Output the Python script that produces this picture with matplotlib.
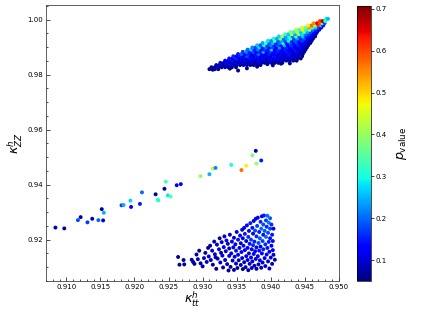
import matplotlib
matplotlib.use("Agg")
import matplotlib.pyplot as plt
from matplotlib.ticker import MultipleLocator

# ---------------- data ----------------
# sparse band of points in the middle: (kappa_tt, kappa_ZZ, p_value)
middle_points = [
    (0.9084, 0.9244, .08), (0.9097, 0.9241, .07), (0.9117, 0.9271, .18), (0.9121, 0.9282, .08),
    (0.9131, 0.9263, .17), (0.9138, 0.9276, .08), (0.9147, 0.9271, .20), (0.9152, 0.9311, .08),
    (0.9154, 0.9270, .10), (0.9155, 0.9298, .25), (0.9181, 0.9325, .17), (0.9184, 0.9326, .25),
    (0.9194, 0.9342, .27), (0.9195, 0.9319, .12), (0.9208, 0.9330, .15), (0.9211, 0.9372, .20),
    (0.9231, 0.9365, .07), (0.9234, 0.9346, .33), (0.9235, 0.9343, .30), (0.9244, 0.9385, .07),
    (0.9246, 0.9411, .33), (0.9249, 0.9361, .28), (0.9253, 0.9357, .35), (0.9262, 0.9398, .12),
    (0.9268, 0.9402, .12), (0.9297, 0.9431, .40), (0.9310, 0.9438, .25), (0.9315, 0.9458, .43),
    (0.9319, 0.9461, .22), (0.9342, 0.9472, .30), (0.9357, 0.9453, .57), (0.9364, 0.9469, .48),
    (0.9373, 0.9507, .38), (0.9378, 0.9523, .07), (0.9379, 0.9477, .40), (0.9386, 0.9488, .15),
]

# dense upper cluster
upper_points = [
    (0.9310, 0.9820, .06), (0.9314, 0.9820, .06), (0.9318, 0.9820, .06), (0.9323, 0.9820, .06),
    (0.9313, 0.9827, .07), (0.9318, 0.9827, .06), (0.9323, 0.9827, .08), (0.9328, 0.9827, .06),
    (0.9333, 0.9827, .07), (0.9338, 0.9827, .06), (0.9343, 0.9827, .06), (0.9349, 0.9827, .06),
    (0.9320, 0.9835, .08), (0.9325, 0.9835, .10), (0.9330, 0.9835, .07), (0.9335, 0.9835, .09),
    (0.9340, 0.9835, .11), (0.9345, 0.9835, .07), (0.9350, 0.9835, .09), (0.9355, 0.9835, .06),
    (0.9360, 0.9835, .08), (0.9365, 0.9835, .06), (0.9370, 0.9835, .07), (0.9375, 0.9835, .06),
    (0.9380, 0.9835, .06), (0.9385, 0.9835, .06),
    (0.9326, 0.9843, .10), (0.9331, 0.9843, .08), (0.9336, 0.9843, .12), (0.9341, 0.9843, .07),
    (0.9346, 0.9843, .10), (0.9351, 0.9843, .11), (0.9356, 0.9843, .08), (0.9361, 0.9843, .10),
    (0.9366, 0.9843, .07), (0.9371, 0.9843, .09), (0.9376, 0.9843, .08), (0.9381, 0.9843, .10),
    (0.9386, 0.9843, .07), (0.9391, 0.9843, .08), (0.9396, 0.9843, .06), (0.9401, 0.9843, .08),
    (0.9406, 0.9843, .06), (0.9411, 0.9843, .07), (0.9417, 0.9843, .06),
    (0.9333, 0.9851, .12), (0.9338, 0.9851, .10), (0.9343, 0.9851, .14), (0.9348, 0.9851, .08),
    (0.9353, 0.9851, .11), (0.9358, 0.9851, .10), (0.9363, 0.9851, .13), (0.9368, 0.9851, .09),
    (0.9373, 0.9851, .11), (0.9378, 0.9851, .08), (0.9383, 0.9851, .12), (0.9388, 0.9851, .10),
    (0.9393, 0.9851, .08), (0.9398, 0.9851, .11), (0.9403, 0.9851, .09), (0.9408, 0.9851, .07),
    (0.9413, 0.9851, .10), (0.9418, 0.9851, .08), (0.9423, 0.9851, .09), (0.9428, 0.9851, .06),
    (0.9433, 0.9851, .08), (0.9438, 0.9851, .06),
    (0.9339, 0.9859, .14), (0.9344, 0.9859, .11), (0.9349, 0.9859, .16), (0.9354, 0.9859, .10),
    (0.9359, 0.9859, .12), (0.9364, 0.9859, .09), (0.9369, 0.9859, .14), (0.9374, 0.9859, .11),
    (0.9379, 0.9859, .12), (0.9384, 0.9859, .10), (0.9389, 0.9859, .13), (0.9394, 0.9859, .08),
    (0.9399, 0.9859, .12), (0.9404, 0.9859, .10), (0.9409, 0.9859, .12), (0.9414, 0.9859, .08),
    (0.9419, 0.9859, .11), (0.9424, 0.9859, .08), (0.9429, 0.9859, .10), (0.9434, 0.9859, .07),
    (0.9439, 0.9859, .08), (0.9444, 0.9859, .06),
    (0.9345, 0.9867, .16), (0.9350, 0.9867, .12), (0.9355, 0.9867, .14), (0.9360, 0.9867, .11),
    (0.9365, 0.9867, .18), (0.9370, 0.9867, .12), (0.9375, 0.9867, .11), (0.9380, 0.9867, .14),
    (0.9385, 0.9867, .10), (0.9390, 0.9867, .13), (0.9395, 0.9867, .12), (0.9400, 0.9867, .09),
    (0.9405, 0.9867, .14), (0.9410, 0.9867, .11), (0.9415, 0.9867, .12), (0.9420, 0.9867, .08),
    (0.9425, 0.9867, .11), (0.9430, 0.9867, .10), (0.9435, 0.9867, .08), (0.9440, 0.9867, .09),
    (0.9446, 0.9867, .06),
    (0.9352, 0.9875, .15), (0.9357, 0.9875, .20), (0.9362, 0.9875, .12), (0.9367, 0.9875, .16),
    (0.9372, 0.9875, .11), (0.9377, 0.9875, .14), (0.9382, 0.9875, .20), (0.9387, 0.9875, .12),
    (0.9392, 0.9875, .11), (0.9397, 0.9875, .15), (0.9402, 0.9875, .12), (0.9407, 0.9875, .13),
    (0.9412, 0.9875, .10), (0.9417, 0.9875, .12), (0.9422, 0.9875, .11), (0.9427, 0.9875, .14),
    (0.9432, 0.9875, .09), (0.9437, 0.9875, .11), (0.9442, 0.9875, .08), (0.9447, 0.9875, .06),
    (0.9359, 0.9883, .17), (0.9364, 0.9883, .22), (0.9369, 0.9883, .14), (0.9374, 0.9883, .18),
    (0.9379, 0.9883, .12), (0.9384, 0.9883, .15), (0.9389, 0.9883, .24), (0.9394, 0.9883, .13),
    (0.9399, 0.9883, .16), (0.9404, 0.9883, .12), (0.9409, 0.9883, .15), (0.9414, 0.9883, .12),
    (0.9419, 0.9883, .11), (0.9424, 0.9883, .14), (0.9429, 0.9883, .12), (0.9434, 0.9883, .10),
    (0.9439, 0.9883, .12), (0.9444, 0.9883, .09), (0.9449, 0.9883, .07),
    (0.9366, 0.9891, .20), (0.9371, 0.9891, .26), (0.9376, 0.9891, .15), (0.9381, 0.9891, .21),
    (0.9386, 0.9891, .13), (0.9391, 0.9891, .17), (0.9396, 0.9891, .14), (0.9401, 0.9891, .27),
    (0.9406, 0.9891, .12), (0.9411, 0.9891, .16), (0.9416, 0.9891, .12), (0.9421, 0.9891, .15),
    (0.9426, 0.9891, .13), (0.9431, 0.9891, .11), (0.9436, 0.9891, .14), (0.9441, 0.9891, .10),
    (0.9446, 0.9891, .09), (0.9451, 0.9891, .07),
    (0.9373, 0.9899, .22), (0.9378, 0.9899, .17), (0.9383, 0.9899, .28), (0.9388, 0.9899, .15),
    (0.9393, 0.9899, .20), (0.9398, 0.9899, .14), (0.9403, 0.9899, .18), (0.9408, 0.9899, .13),
    (0.9413, 0.9899, .23), (0.9418, 0.9899, .12), (0.9423, 0.9899, .16), (0.9428, 0.9899, .12),
    (0.9433, 0.9899, .14), (0.9438, 0.9899, .11), (0.9443, 0.9899, .12), (0.9448, 0.9899, .09),
    (0.9453, 0.9899, .07),
    (0.9380, 0.9907, .26), (0.9385, 0.9907, .19), (0.9390, 0.9907, .30), (0.9395, 0.9907, .17),
    (0.9400, 0.9907, .22), (0.9405, 0.9907, .15), (0.9410, 0.9907, .19), (0.9415, 0.9907, .14),
    (0.9420, 0.9907, .25), (0.9425, 0.9907, .13), (0.9430, 0.9907, .17), (0.9435, 0.9907, .12),
    (0.9440, 0.9907, .15), (0.9445, 0.9907, .11), (0.9450, 0.9907, .09), (0.9455, 0.9907, .07),
    (0.9388, 0.9915, .24), (0.9393, 0.9915, .33), (0.9398, 0.9915, .19), (0.9403, 0.9915, .26),
    (0.9408, 0.9915, .16), (0.9413, 0.9915, .21), (0.9418, 0.9915, .30), (0.9423, 0.9915, .15),
    (0.9428, 0.9915, .19), (0.9433, 0.9915, .14), (0.9438, 0.9915, .17), (0.9443, 0.9915, .12),
    (0.9448, 0.9915, .13), (0.9453, 0.9915, .09), (0.9458, 0.9915, .07),
    (0.9396, 0.9923, .28), (0.9401, 0.9923, .22), (0.9406, 0.9923, .36), (0.9411, 0.9923, .19),
    (0.9416, 0.9923, .24), (0.9421, 0.9923, .17), (0.9426, 0.9923, .29), (0.9431, 0.9923, .15),
    (0.9436, 0.9923, .19), (0.9441, 0.9923, .14), (0.9446, 0.9923, .17), (0.9451, 0.9923, .12),
    (0.9456, 0.9923, .09), (0.9460, 0.9923, .07),
    (0.9404, 0.9931, .30), (0.9409, 0.9931, .24), (0.9414, 0.9931, .38), (0.9419, 0.9931, .20),
    (0.9424, 0.9931, .26), (0.9429, 0.9931, .33), (0.9434, 0.9931, .18), (0.9439, 0.9931, .23),
    (0.9444, 0.9931, .16), (0.9449, 0.9931, .19), (0.9454, 0.9931, .13), (0.9458, 0.9931, .10),
    (0.9462, 0.9931, .08),
    (0.9412, 0.9939, .27), (0.9417, 0.9939, .40), (0.9422, 0.9939, .23), (0.9427, 0.9939, .32),
    (0.9432, 0.9939, .21), (0.9437, 0.9939, .35), (0.9442, 0.9939, .19), (0.9447, 0.9939, .26),
    (0.9452, 0.9939, .16), (0.9457, 0.9939, .13), (0.9461, 0.9939, .10), (0.9465, 0.9939, .08),
    (0.9421, 0.9947, .34), (0.9426, 0.9947, .26), (0.9431, 0.9947, .42), (0.9436, 0.9947, .24),
    (0.9441, 0.9947, .38), (0.9446, 0.9947, .28), (0.9451, 0.9947, .21), (0.9456, 0.9947, .17),
    (0.9461, 0.9947, .13), (0.9466, 0.9947, .09),
    (0.9429, 0.9955, .38), (0.9434, 0.9955, .30), (0.9439, 0.9955, .45), (0.9444, 0.9955, .26),
    (0.9449, 0.9955, .36), (0.9454, 0.9955, .24), (0.9459, 0.9955, .18), (0.9464, 0.9955, .13),
    (0.9468, 0.9955, .09),
    (0.9437, 0.9963, .42), (0.9442, 0.9963, .32), (0.9447, 0.9963, .48), (0.9452, 0.9963, .29),
    (0.9457, 0.9963, .40), (0.9462, 0.9963, .21), (0.9467, 0.9963, .15), (0.9471, 0.9963, .10),
    (0.9446, 0.9971, .46), (0.9451, 0.9971, .36), (0.9456, 0.9971, .55), (0.9461, 0.9971, .33),
    (0.9466, 0.9971, .26), (0.9471, 0.9971, .17), (0.9474, 0.9971, .11),
    (0.9455, 0.9979, .48), (0.9460, 0.9979, .58), (0.9465, 0.9979, .42), (0.9470, 0.9979, .62),
    (0.9474, 0.9979, .27), (0.9477, 0.9979, .13),
    (0.9463, 0.9987, .55), (0.9468, 0.9987, .65), (0.9472, 0.9987, .60), (0.9476, 0.9987, .40),
    (0.9479, 0.9987, .18),
    (0.9472, 0.9995, .60), (0.9476, 0.9995, .68), (0.9480, 0.9995, .32),
    (0.9481, 1.0003, .30), (0.9484, 1.0003, .25),
    # stray points just below the upper cluster
    (0.9315, 0.9818, .06), (0.9340, 0.9822, .06), (0.9352, 0.9815, .06), (0.9365, 0.9823, .07),
    (0.9380, 0.9829, .06), (0.9395, 0.9838, .07), (0.9403, 0.9834, .06), (0.9415, 0.9840, .06),
    (0.9428, 0.9841, .07),
]

# lower cluster
lower_points = [
    (0.9264, 0.9137, .06), (0.9266, 0.9109, .06), (0.9272, 0.9126, .07), (0.9273, 0.9110, .07),
    (0.9284, 0.9127, .08), (0.9286, 0.9119, .07), (0.9288, 0.9112, .07), (0.9291, 0.9146, .07),
    (0.9293, 0.9129, .09), (0.9295, 0.9160, .06), (0.9297, 0.9114, .07),
    (0.9300, 0.9103, .07), (0.9302, 0.9133, .10), (0.9304, 0.9152, .08), (0.9306, 0.9119, .09),
    (0.9308, 0.9170, .07), (0.9309, 0.9139, .10),
    (0.9311, 0.9178, .07), (0.9312, 0.9126, .08), (0.9314, 0.9160, .11), (0.9315, 0.9109, .07),
    (0.9317, 0.9193, .08), (0.9318, 0.9147, .10), (0.9319, 0.9136, .08),
    (0.9320, 0.9094, .06), (0.9321, 0.9182, .10), (0.9322, 0.9131, .08), (0.9324, 0.9165, .12),
    (0.9325, 0.9205, .07), (0.9326, 0.9117, .09), (0.9327, 0.9152, .07), (0.9328, 0.9191, .10),
    (0.9329, 0.9142, .11),
    (0.9330, 0.9099, .07), (0.9331, 0.9173, .12), (0.9332, 0.9212, .08), (0.9333, 0.9126, .09),
    (0.9334, 0.9158, .10), (0.9335, 0.9197, .13), (0.9336, 0.9111, .08), (0.9337, 0.9185, .10),
    (0.9338, 0.9088, .06), (0.9339, 0.9141, .12), (0.9339, 0.9168, .08),
    (0.9340, 0.9218, .09), (0.9341, 0.9101, .07), (0.9342, 0.9150, .11), (0.9343, 0.9193, .12),
    (0.9344, 0.9124, .08), (0.9345, 0.9172, .13), (0.9346, 0.9207, .10), (0.9346, 0.9090, .07),
    (0.9347, 0.9138, .10), (0.9348, 0.9183, .09), (0.9349, 0.9160, .14), (0.9349, 0.9113, .08),
    (0.9350, 0.9228, .11), (0.9351, 0.9097, .07), (0.9352, 0.9145, .12), (0.9352, 0.9200, .14),
    (0.9353, 0.9125, .09), (0.9354, 0.9170, .11), (0.9355, 0.9215, .13), (0.9356, 0.9108, .08),
    (0.9356, 0.9187, .10), (0.9357, 0.9155, .13), (0.9358, 0.9236, .09), (0.9358, 0.9133, .10),
    (0.9359, 0.9093, .07), (0.9359, 0.9205, .12),
    (0.9360, 0.9178, .14), (0.9361, 0.9118, .09), (0.9361, 0.9243, .12), (0.9362, 0.9162, .11),
    (0.9362, 0.9221, .15), (0.9363, 0.9100, .08), (0.9364, 0.9140, .12), (0.9364, 0.9195, .10),
    (0.9365, 0.9252, .13), (0.9366, 0.9126, .09), (0.9366, 0.9170, .13), (0.9367, 0.9210, .16),
    (0.9367, 0.9089, .07), (0.9368, 0.9150, .11), (0.9368, 0.9232, .12), (0.9369, 0.9185, .14),
    (0.9369, 0.9112, .10),
    (0.9370, 0.9260, .15), (0.9371, 0.9135, .12), (0.9371, 0.9200, .17), (0.9372, 0.9097, .08),
    (0.9372, 0.9165, .11), (0.9373, 0.9243, .14), (0.9373, 0.9121, .10), (0.9374, 0.9180, .16),
    (0.9374, 0.9222, .12), (0.9375, 0.9148, .13), (0.9375, 0.9268, .10), (0.9376, 0.9105, .09),
    (0.9376, 0.9193, .15), (0.9377, 0.9233, .18), (0.9377, 0.9158, .12), (0.9378, 0.9276, .11),
    (0.9378, 0.9130, .10), (0.9379, 0.9212, .16), (0.9379, 0.9094, .07), (0.9379, 0.9172, .13),
    (0.9380, 0.9250, .17), (0.9381, 0.9140, .12), (0.9381, 0.9280, .13), (0.9382, 0.9188, .18),
    (0.9382, 0.9110, .09), (0.9383, 0.9228, .15), (0.9383, 0.9160, .14), (0.9384, 0.9205, .19),
    (0.9384, 0.9125, .11), (0.9385, 0.9265, .16), (0.9385, 0.9175, .13), (0.9386, 0.9098, .08),
    (0.9386, 0.9240, .20), (0.9387, 0.9150, .12), (0.9387, 0.9285, .12), (0.9388, 0.9195, .17),
    (0.9388, 0.9117, .10), (0.9389, 0.9218, .14), (0.9389, 0.9255, .18), (0.9389, 0.9165, .15),
    (0.9390, 0.9288, .15), (0.9391, 0.9133, .11), (0.9391, 0.9232, .19), (0.9392, 0.9183, .16),
    (0.9392, 0.9104, .09), (0.9393, 0.9270, .17), (0.9393, 0.9210, .20), (0.9394, 0.9146, .13),
    (0.9394, 0.9247, .16), (0.9395, 0.9170, .14), (0.9395, 0.9287, .20), (0.9396, 0.9121, .10),
    (0.9396, 0.9225, .18), (0.9397, 0.9192, .15), (0.9397, 0.9262, .21), (0.9398, 0.9156, .12),
    (0.9398, 0.9095, .08), (0.9399, 0.9240, .17), (0.9399, 0.9205, .14), (0.9399, 0.9278, .19),
    (0.9400, 0.9135, .11), (0.9401, 0.9178, .13), (0.9401, 0.9255, .16), (0.9402, 0.9218, .15),
    (0.9402, 0.9112, .09), (0.9403, 0.9162, .12), (0.9403, 0.9195, .14), (0.9404, 0.9240, .13),
    (0.9404, 0.9145, .10), (0.9406, 0.9127, .08),
]

x_ticks = [0.910, 0.915, 0.920, 0.925, 0.930, 0.935, 0.940, 0.945, 0.950]
y_ticks = [0.92, 0.94, 0.96, 0.98, 1.00]
cbar_ticks = [0.1, 0.2, 0.3, 0.4, 0.5, 0.6, 0.7]
p_min, p_max = 0.05, 0.707

# ---------------- figure ----------------
fig = plt.figure(figsize=(4.21, 3.16), dpi=100)
ax = fig.add_axes([0.109, 0.111, 0.696, 0.872])
cax = fig.add_axes([0.848, 0.111, 0.033, 0.870])

pts = lower_points + middle_points + upper_points
xs = [p[0] for p in pts]
ys = [p[1] for p in pts]
cs = [p[2] for p in pts]
sc = ax.scatter(xs, ys, c=cs, cmap="jet", vmin=p_min, vmax=p_max,
                s=8, marker="o", linewidths=0)

ax.set_xlim(0.907, 0.950)
ax.set_ylim(0.905, 1.0052)
ax.set_xticks(x_ticks)
ax.set_xticklabels([f"{t:.3f}" for t in x_ticks])
ax.set_yticks(y_ticks)
ax.set_yticklabels([f"{t:.2f}" for t in y_ticks])
ax.xaxis.set_minor_locator(MultipleLocator(0.001))
ax.yaxis.set_minor_locator(MultipleLocator(0.005))
ax.tick_params(which="both", direction="in", labelsize=5, pad=2, width=0.5)
ax.tick_params(which="major", length=3)
ax.tick_params(which="minor", length=1.5)
for s in ax.spines.values():
    s.set_linewidth(0.6)
    s.set_color("#444444")

ax.set_xlabel(r"$\kappa_{tt}^{h}$", fontsize=9, labelpad=0)
ax.set_ylabel(r"$\kappa_{ZZ}^{h}$", fontsize=9, labelpad=2)

cb = fig.colorbar(sc, cax=cax, ticks=cbar_ticks)
cb.ax.tick_params(labelsize=5, length=2, width=0.5, pad=1.5)
cb.outline.set_linewidth(0.5)
cb.set_label(r"$p_{\rm value}$", fontsize=9, labelpad=6)

fig.savefig("out.png", dpi=100)
